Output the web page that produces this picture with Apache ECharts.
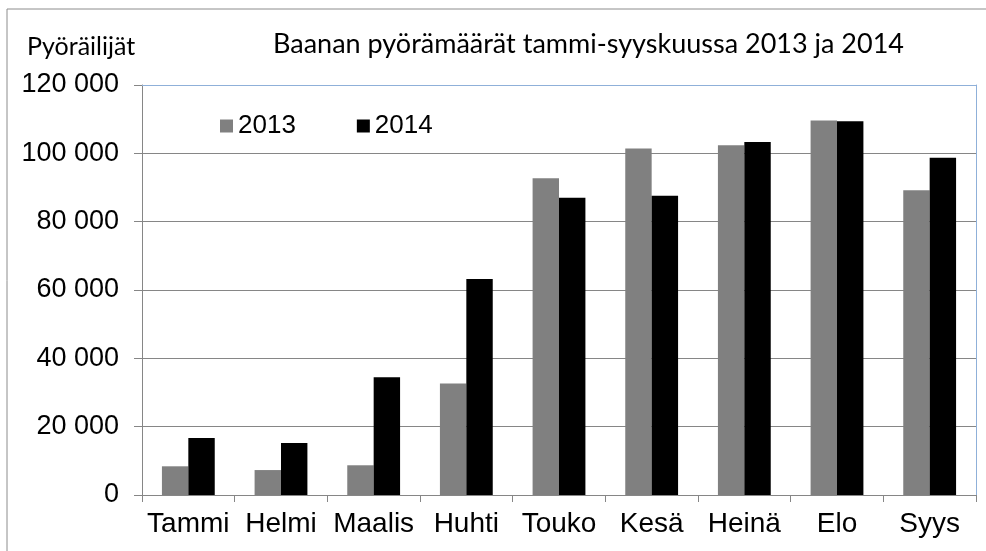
<!DOCTYPE html>
<html>
<head>
<meta charset="utf-8">
<script src="https://cdn.jsdelivr.net/npm/echarts@6/dist/echarts.min.js"></script>
<style>
html,body{margin:0;padding:0;background:#fff;}
#chart{width:986px;height:551px;}
</style>
</head>
<body>
<div id="chart"></div>
<script>
const categories = ['Tammi','Helmi','Maalis','Huhti','Touko','Kesä','Heinä','Elo','Syys'];
const values2013 = [8400, 7300, 8700, 32600, 92700, 101400, 102400, 109600, 89200];
const values2014 = [16700, 15200, 34500, 63200, 87000, 87600, 103300, 109400, 98700];
const seriesNames = ['2013', '2014'];
const titleText = 'Baanan pyörämäärät tammi-syyskuussa 2013 ja 2014';
const yAxisTitle = 'Pyöräilijät';
const yTicks = {min: 0, max: 120000, interval: 20000};

const chart = echarts.init(document.getElementById('chart'));
const sans = '"Liberation Sans", Arial, sans-serif';
const calibriLike = 'Lato, "Open Sans", sans-serif';
const blue = '#8fb0d9';
const gray = '#868686';

chart.setOption({
  animation: false,
  backgroundColor: '#ffffff',
  title: {
    text: titleText,
    left: 273,
    top: 31,
    padding: 0,
    textStyle: {fontFamily: calibriLike, fontSize: 27, fontWeight: 'normal', color: '#000'}
  },
  graphic: [
    {type: 'rect', shape: {x: 7, y: 9, width: 1100, height: 700}, style: {fill: 'none', stroke: '#8c8c8c', lineWidth: 1}, silent: true},
    {type: 'text', left: 27, top: 34, style: {text: yAxisTitle, font: '25px ' + calibriLike, fill: '#000'}}
  ],
  legend: {
    left: 220,
    top: 113,
    padding: 0,
    itemWidth: 13,
    itemHeight: 13,
    itemGap: 61,
    icon: 'rect',
    data: seriesNames,
    textStyle: {fontFamily: sans, fontSize: 26, color: '#000'}
  },
  grid: {
    left: 142, right: 10, top: 85, bottom: 56,
    show: false,
    containLabel: false
  },
  xAxis: [{
    type: 'category',
    data: categories,
    axisLine: {lineStyle: {color: gray, width: 1}},
    axisTick: {show: true, length: 7, lineStyle: {color: gray}},
    axisLabel: {fontFamily: sans, fontSize: 28, color: '#000', margin: 15, interval: 0}
  }, {
    type: 'category',
    data: categories,
    position: 'top',
    axisLine: {show: true, onZero: false, lineStyle: {color: blue, width: 1}},
    axisTick: {show: false},
    axisLabel: {show: false}
  }],
  yAxis: [{
    type: 'value',
    min: yTicks.min, max: yTicks.max, interval: yTicks.interval,
    axisLine: {show: true, lineStyle: {color: gray, width: 1}},
    axisTick: {show: true, length: 8, lineStyle: {color: gray}},
    splitLine: {show: true, showMaxLine: false, showMinLine: false, lineStyle: {color: gray, width: 1}},
    axisLabel: {
      fontFamily: sans, fontSize: 27, color: '#000', margin: 23,
      formatter: v => v === 0 ? '0' : String(v).replace(/\B(?=(\d{3})+(?!\d))/g, ' ')
    }
  }, {
    type: 'value',
    position: 'right',
    min: yTicks.min, max: yTicks.max, interval: yTicks.interval,
    axisLine: {show: true, onZero: false, lineStyle: {color: blue, width: 1}},
    axisTick: {show: false},
    splitLine: {show: false},
    axisLabel: {show: false}
  }],
  series: [
    {name: seriesNames[0], type: 'bar', data: values2013, itemStyle: {color: '#808080'}, barGap: '0%', barCategoryGap: '43%', z: 3},
    {name: seriesNames[1], type: 'bar', data: values2014, itemStyle: {color: '#000000'}, barGap: '0%', barCategoryGap: '43%', z: 3}
  ]
});
</script>
</body>
</html>
